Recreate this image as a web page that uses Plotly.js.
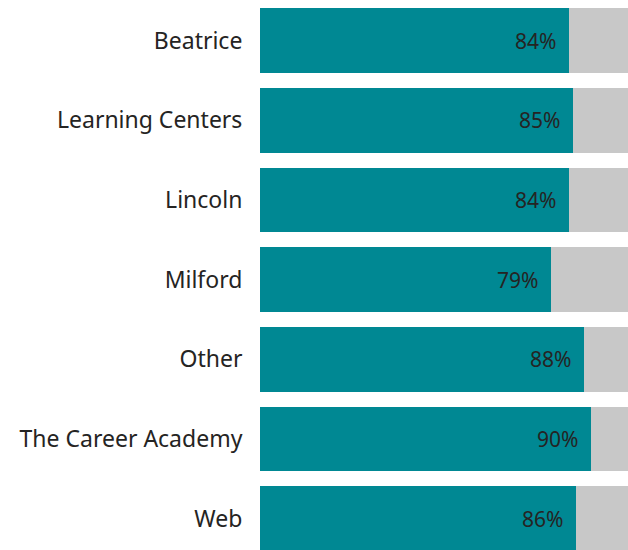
<!DOCTYPE html>
<html><head><meta charset="utf-8">
<script src="https://cdn.plot.ly/plotly-3.0.1.min.js"></script>
<style>html,body{margin:0;padding:0;overflow:hidden;background:#fff}</style>
</head><body>
<div id="chart" style="width:628px;height:550px"></div>
<script>
const categories = ["Beatrice","Learning Centers","Lincoln","Milford","Other","The Career Academy","Web"];
const values = [84, 85, 84, 79, 88, 90, 86];
const remainder = values.map(v => 100 - v);
const labels = values.map(v => v + "%");

const font = "Segoe UI, Noto Sans, Open Sans, sans-serif";
const data = [
  {type:"bar", orientation:"h", y:categories, x:values, marker:{color:"#008893"}, hoverinfo:"none"},
  {type:"bar", orientation:"h", y:categories, x:remainder, marker:{color:"#C8C8C8"}, hoverinfo:"none"}
];
const annotations = categories.map((c,i) => ({
  x: values[i], y: c, xref:"x", yref:"y", text: labels[i], showarrow:false,
  xanchor:"right", xshift:-11, font:{family:font, size:21, color:"#252423"}
}));
const layout = {
  width:628, height:550, barmode:"stack", bargap:0.188, showlegend:false,
  margin:{l:260, r:0, t:0, b:0},
  paper_bgcolor:"#fff", plot_bgcolor:"#fff",
  xaxis:{range:[0,100], visible:false, fixedrange:true},
  yaxis:{range:[6.395,-0.51], showgrid:false, zeroline:false, showline:false,
         ticks:"outside", ticklen:12, tickcolor:"rgba(0,0,0,0)",
         tickfont:{family:font, size:23, color:"#252423"}},
  annotations: annotations
};
Plotly.newPlot("chart", data, layout, {staticPlot:true, displayModeBar:false});
</script>
</body></html>
